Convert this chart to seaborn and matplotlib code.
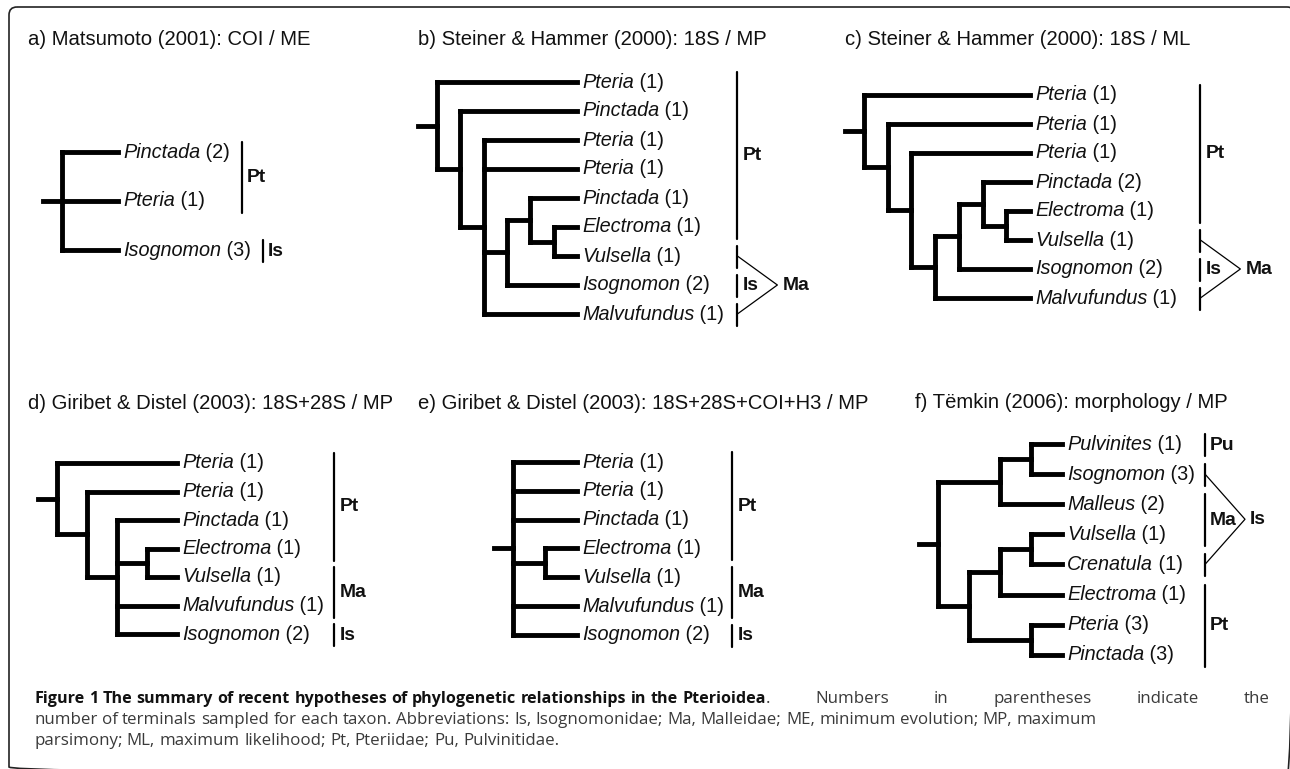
import matplotlib
matplotlib.use("Agg")
import matplotlib.pyplot as plt
import pandas as pd
import seaborn as sns
from matplotlib import font_manager
from matplotlib.patches import FancyBboxPatch

# ---- data: one small set per panel ----
A_TITLE = "a) Matsumoto (2001): COI / ME"
A_TAXA = ["Pinctada", "Pteria", "Isognomon"]
A_COUNTS = [2, 1, 3]
A_TREE = (0, 1, 2)
A_BARS = [("Pt", 0, 1), ("Is", 2, 2)]
A_WEDGE = None

B_TITLE = "b) Steiner & Hammer (2000): 18S / MP"
B_TAXA = ["Pteria", "Pinctada", "Pteria", "Pteria", "Pinctada", "Electroma",
          "Vulsella", "Isognomon", "Malvufundus"]
B_COUNTS = [1, 1, 1, 1, 1, 1, 1, 2, 1]
B_TREE = (0, (1, (2, 3, ((4, (5, 6)), 7), 8)))
B_BARS = [("Pt", 0, 5), ("", 6, 6), ("Is", 7, 7), ("", 8, 8)]
B_WEDGE = ("Ma", 6, 8)

C_TITLE = "c) Steiner & Hammer (2000): 18S / ML"
C_TAXA = ["Pteria", "Pteria", "Pteria", "Pinctada", "Electroma", "Vulsella",
          "Isognomon", "Malvufundus"]
C_COUNTS = [1, 1, 1, 2, 1, 1, 2, 1]
C_TREE = (0, (1, (2, (((3, (4, 5)), 6), 7))))
C_BARS = [("Pt", 0, 4), ("", 5, 5), ("Is", 6, 6), ("", 7, 7)]
C_WEDGE = ("Ma", 5, 7)

D_TITLE = "d) Giribet & Distel (2003): 18S+28S / MP"
D_TAXA = ["Pteria", "Pteria", "Pinctada", "Electroma", "Vulsella", "Malvufundus", "Isognomon"]
D_COUNTS = [1, 1, 1, 1, 1, 1, 2]
D_TREE = (0, (1, (2, (3, 4), 5, 6)))
D_BARS = [("Pt", 0, 3), ("Ma", 4, 5), ("Is", 6, 6)]
D_WEDGE = None

E_TITLE = "e) Giribet & Distel (2003): 18S+28S+COI+H3 / MP"
E_TAXA = ["Pteria", "Pteria", "Pinctada", "Electroma", "Vulsella", "Malvufundus", "Isognomon"]
E_COUNTS = [1, 1, 1, 1, 1, 1, 2]
E_TREE = (0, 1, 2, (3, 4), 5, 6)
E_BARS = [("Pt", 0, 3), ("Ma", 4, 5), ("Is", 6, 6)]
E_WEDGE = None

F_TITLE = "f) Tëmkin (2006): morphology / MP"
F_TAXA = ["Pulvinites", "Isognomon", "Malleus", "Vulsella", "Crenatula", "Electroma",
          "Pteria", "Pinctada"]
F_COUNTS = [1, 3, 2, 1, 1, 1, 3, 3]
F_TREE = (((0, 1), 2), (((3, 4), 5), (6, 7)))
F_BARS = [("Pu", 0, 0), ("", 1, 1), ("Ma", 2, 3), ("", 4, 4), ("Pt", 5, 7)]
F_WEDGE = ("Is", 1, 4)

CAPTION_BOLD = "Figure 1 The summary of recent hypotheses of phylogenetic relationships in the Pterioidea"
CAPTION_LINE1 = ". Numbers in parentheses indicate the"
CAPTION_LINE2 = ("number of terminals sampled for each taxon. Abbreviations: Is, Isognomonidae; "
                 "Ma, Malleidae; ME, minimum evolution; MP, maximum")
CAPTION_LINE3 = "parsimony; ML, maximum likelihood; Pt, Pteriidae; Pu, Pulvinitidae."

# ---- layout (pixel positions of each panel) ----
LAYOUT = {
    "a": dict(title=(28, 45), root_x=62, tip_x=118, y0=152, dy=49, gap=12, per_group=True),
    "b": dict(title=(418, 45), root_x=437, tip_x=577, y0=82, dy=29, gap=13),
    "c": dict(title=(845, 45), root_x=864, tip_x=1030, y0=95, dy=29, gap=23),
    "d": dict(title=(28, 409), root_x=57, tip_x=177, y0=463, dy=28.5, gap=10),
    "e": dict(title=(418, 409), root_x=513, tip_x=577, y0=462, dy=28.8, gap=8),
    "f": dict(title=(915, 408), root_x=938, tip_x=1062, y0=444, dy=30.1, gap=10),
}
PANELS = [
    ("a", A_TITLE, A_TAXA, A_COUNTS, A_TREE, A_BARS, A_WEDGE),
    ("b", B_TITLE, B_TAXA, B_COUNTS, B_TREE, B_BARS, B_WEDGE),
    ("c", C_TITLE, C_TAXA, C_COUNTS, C_TREE, C_BARS, C_WEDGE),
    ("d", D_TITLE, D_TAXA, D_COUNTS, D_TREE, D_BARS, D_WEDGE),
    ("e", E_TITLE, E_TAXA, E_COUNTS, E_TREE, E_BARS, E_WEDGE),
    ("f", F_TITLE, F_TAXA, F_COUNTS, F_TREE, F_BARS, F_WEDGE),
]

sns.set_theme(style="white")
installed = {f.name for f in font_manager.fontManager.ttflist}
NARROW = "Liberation Sans Narrow" in installed
TREE_FONT = ["Liberation Sans Narrow" if NARROW else "Liberation Sans", "DejaVu Sans"]
plt.rcParams["font.family"] = TREE_FONT
k = 1.0 if NARROW else 0.84
TAXON_SIZE, TITLE_SIZE, CLADE_SIZE = 17 * k, 17.4 * k, 16.5 * k
CAP_FONT = ["Open Sans", "DejaVu Sans"]
CAP_SIZE = 12.2
CAP_BOLD_SIZE = 11.6

fig = plt.figure(figsize=(12.9, 7.69), dpi=100)
ax = fig.add_axes([0, 0, 1, 1])


def height(node):
    if isinstance(node, int):
        return 0
    return 1 + max(height(c) for c in node)


def build(node, lay, step, segs):
    if isinstance(node, int):
        return lay["tip_x"], lay["y0"] + node * lay["dy"]
    pts = [build(c, lay, step, segs) for c in node]
    x = lay["tip_x"] - height(node) * step
    y = (pts[0][1] + pts[-1][1]) / 2
    segs.append([(x, pts[0][1]), (x, pts[-1][1])])
    for cx, cy in pts:
        segs.append([(x, cy), (cx, cy)])
    return x, y


def seg_frame(segs):
    rows = []
    for i, s in enumerate(segs):
        for px, py in s:
            rows.append({"x": px, "y": py, "seg": i})
    return pd.DataFrame(rows)


# tree branches
branch_segs = []
count_texts = {}
for key, title, taxa, counts, tree, bars, wedge in PANELS:
    lay = LAYOUT[key]
    step = (lay["tip_x"] - lay["root_x"]) / height(tree)
    rx, ry = build(tree, lay, step, branch_segs)
    branch_segs.append([(rx - 19, ry), (rx, ry)])
    ax.text(lay["title"][0], lay["title"][1], title, fontsize=TITLE_SIZE,
            va="baseline", ha="left", color="#111111")
    arts = []
    for i, (name, n) in enumerate(zip(taxa, counts)):
        t = ax.text(lay["tip_x"] + 5, lay["y0"] + i * lay["dy"], name, style="italic",
                    fontsize=TAXON_SIZE, va="center", ha="left", color="#111111")
        c = ax.annotate(f" ({n})", xy=(1, 0), xycoords=t, va="bottom", ha="left",
                        fontsize=TAXON_SIZE, color="#111111")
        arts.append(c)
    count_texts[key] = arts

sns.lineplot(data=seg_frame(branch_segs), x="x", y="y", units="seg", estimator=None,
             sort=False, color="black", linewidth=3.5, solid_capstyle="projecting",
             ax=ax, legend=False)
ax.set_xlim(0, 1290)
ax.set_ylim(769, 0)
ax.axis("off")

fig.canvas.draw()
rend = fig.canvas.get_renderer()
inv = ax.transData.inverted()


def right_edge(artist):
    bb = artist.get_window_extent(rend)
    return inv.transform((bb.x1, bb.y0))[0]


bar_segs, wedge_segs = [], []
for key, title, taxa, counts, tree, bars, wedge in PANELS:
    lay = LAYOUT[key]
    rights = [right_edge(a) for a in count_texts[key]]
    bx_all = max(rights) + lay["gap"]
    for label, i0, i1 in bars:
        bx = max(rights[i0:i1 + 1]) + lay["gap"] if lay.get("per_group") else bx_all
        top = lay["y0"] + i0 * lay["dy"] - 10
        bot = lay["y0"] + i1 * lay["dy"] + 12
        bar_segs.append([(bx, top), (bx, bot)])
        if label:
            ax.text(bx + 5, (top + bot) / 2, label, fontweight="bold", fontsize=CLADE_SIZE,
                    va="center", ha="left", color="#111111")
    if wedge:
        label, ia, ib = wedge
        ya = lay["y0"] + ia * lay["dy"]
        yb = lay["y0"] + ib * lay["dy"]
        ym = (ya + yb) / 2
        wedge_segs.append([(bx_all, ya), (bx_all + 40, ym), (bx_all, yb)])
        ax.text(bx_all + 45, ym, label, fontweight="bold", fontsize=CLADE_SIZE,
                va="center", ha="left", color="#111111")

sns.lineplot(data=seg_frame(bar_segs), x="x", y="y", units="seg", estimator=None,
             sort=False, color="black", linewidth=1.6, ax=ax, legend=False)
sns.lineplot(data=seg_frame(wedge_segs), x="x", y="y", units="seg", estimator=None,
             sort=False, color="black", linewidth=0.9, ax=ax, legend=False)
ax.set_xlim(0, 1290)
ax.set_ylim(769, 0)
ax.axis("off")


# caption: words placed one by one; the gaps from `stretch_from` on take up the
# remaining room when `right` is given (justified first line)
def place_line(pieces, x, y, right=None, stretch_from=0):
    arts = []
    for word, weight, _ in pieces:
        bold = weight == "bold"
        arts.append(ax.text(x, y, word, fontweight=weight, family=CAP_FONT,
                            fontsize=CAP_BOLD_SIZE if bold else CAP_SIZE,
                            va="baseline", ha="left", color="#111111" if bold else "#3a3a3a"))
    probe = [ax.text(0, 0, s, fontsize=CAP_SIZE, family=CAP_FONT) for s in ("a a", "aa")]
    fig.canvas.draw()
    widths = [a.get_window_extent(rend).width for a in arts]
    space = probe[0].get_window_extent(rend).width - probe[1].get_window_extent(rend).width
    for p in probe:
        p.remove()
    gaps = [i for i, p in enumerate(pieces) if i > 0 and p[2]]
    wide = [i for i in gaps if i >= stretch_from]
    extra = 0.0
    if right is not None and wide:
        natural = sum(widths) + space * len(gaps)
        extra = (right - x - natural) / len(wide)
    cur = x
    for i, (a, w) in enumerate(zip(arts, widths)):
        if i in gaps:
            cur += space + (extra if i >= stretch_from else 0.0)
        a.set_x(cur)
        cur += w


line1 = [(w, "bold", True) for w in CAPTION_BOLD.split()]
n_bold = len(line1)
rest = CAPTION_LINE1.split()
line1.append((rest[0], "normal", False))
line1 += [(w, "normal", True) for w in rest[1:]]
place_line(line1, 34, 703, right=1270, stretch_from=n_bold + 1)
place_line([(w, "normal", True) for w in CAPTION_LINE2.split()], 34, 724)
place_line([(w, "normal", True) for w in CAPTION_LINE3.split()], 34, 745)

# frame with rounded corners (right and bottom edges fall off the canvas)
ax.add_patch(FancyBboxPatch((9, 7), 1286, 768, boxstyle="round,pad=0,rounding_size=8",
                            fill=False, linewidth=1.2, edgecolor="#222222"))

fig.savefig("out.png", dpi=100)
